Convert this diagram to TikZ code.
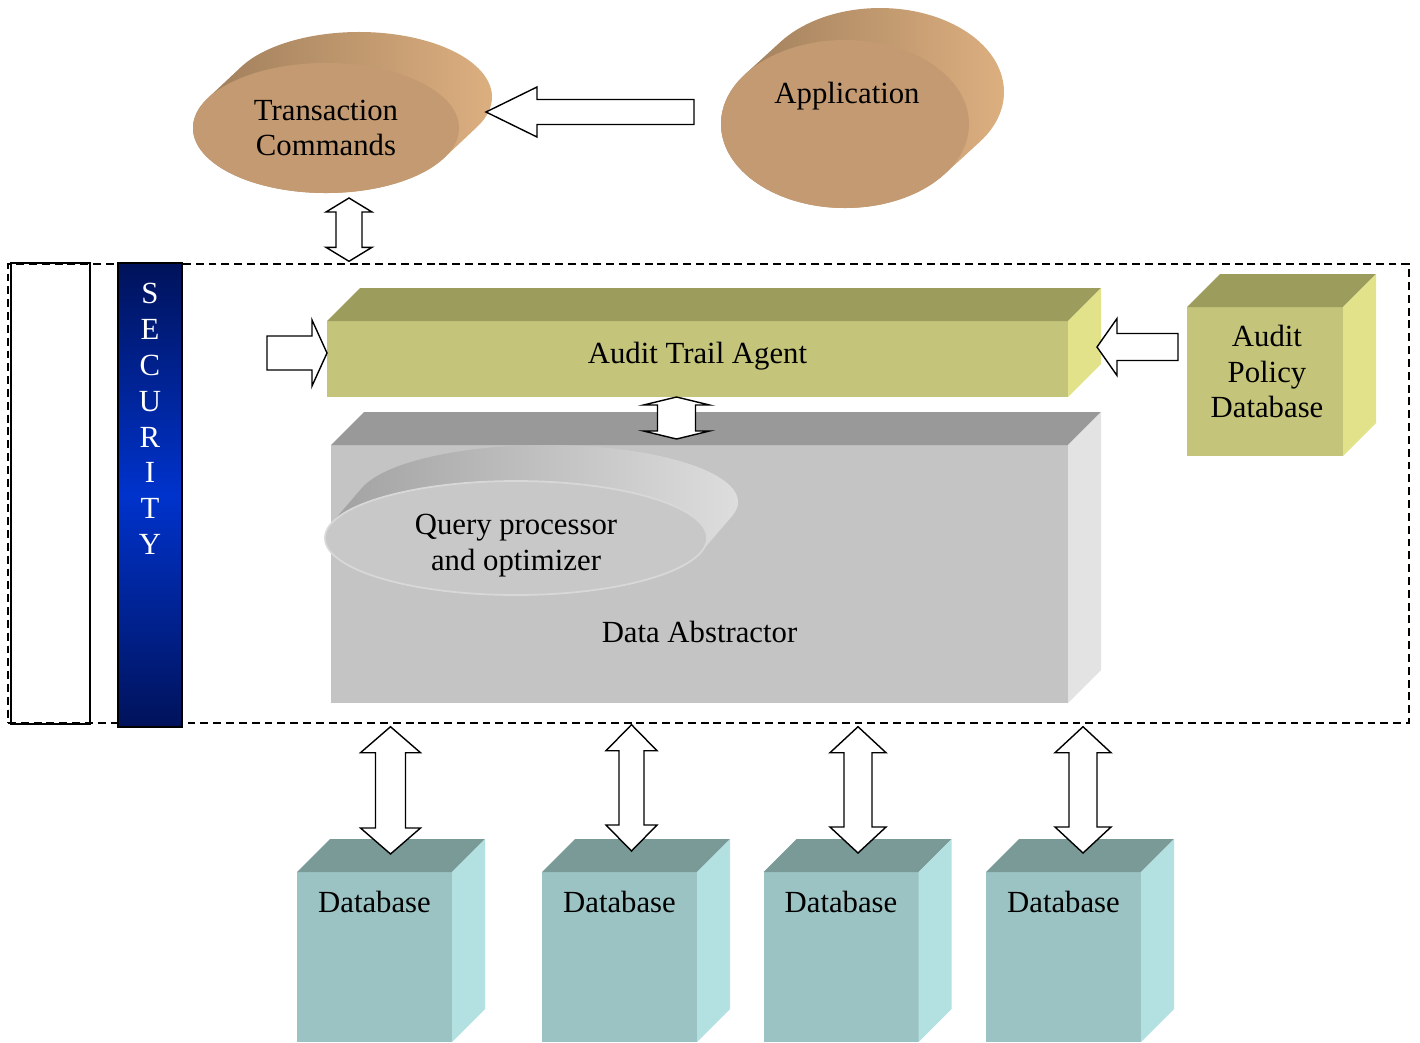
\documentclass[tikz,border=0pt]{standalone}
\usepackage{fontspec}
\setmainfont{Liberation Serif}
\usepackage{tikz}
\usetikzlibrary{shapes, calc}

\definecolor{tanfront}{HTML}{C49A72}
\definecolor{tandark}{HTML}{9A7A58}
\definecolor{tanlight}{HTML}{E0B282}
\definecolor{olivefront}{HTML}{C4C47A}
\definecolor{olivetop}{HTML}{9C9C5C}
\definecolor{oliveside}{HTML}{E2E28A}
\definecolor{greyfront}{HTML}{C4C4C4}
\definecolor{greytop}{HTML}{999999}
\definecolor{greyside}{HTML}{E3E3E3}
\definecolor{qfront}{HTML}{C8C8C8}
\definecolor{qedge}{HTML}{D8D8D8}
\definecolor{qdark}{HTML}{9E9E9E}
\definecolor{qlight}{HTML}{E0E0E0}
\definecolor{tealfront}{HTML}{9CC3C3}
\definecolor{tealtop}{HTML}{7A9A98}
\definecolor{tealside}{HTML}{B3E0E0}
\definecolor{navy}{HTML}{00125A}
\definecolor{brightblue}{HTML}{0033CC}

\def \px {0.02cm}
\def \cdepth {33}

\newcommand{\cubefaces}[3]{%
	\fill[#2] (#1.north west) -- ++(\cdepth,-\cdepth) -- ($(#1.north east)+(\cdepth,-\cdepth)$) -- (#1.north east) -- cycle;
	\fill[#3] (#1.north east) -- ++(\cdepth,-\cdepth) -- ($(#1.south east)+(\cdepth,-\cdepth)$) -- (#1.south east) -- cycle;
}

% centre, x radius, y radius, shift right, shift up, dark, light
\newcommand{\discside}[7]{%
	\pgfmathsetmacro{\discang}{atan((#3*#4)/(#2*#5))}
	\shade[left color=#6, right color=#7] ($(#1)+(\discang:#2 and #3)$)
		arc[start angle=\discang, delta angle=180, x radius=#2, y radius=#3] -- ++(#4,-#5)
		arc[start angle=\discang+180, delta angle=180, x radius=#2, y radius=#3] -- cycle;
}

\newcommand{\blockarrow}[5]{%
	\coordinate (ba-tail) at #1;
	\coordinate (ba-tip) at #2;
	\coordinate (ba-neck) at ($(ba-tip)!#5*\px!(ba-tail)$);
	\draw[blockarrow] (ba-tip) -- ($(ba-neck)!#3*\px!90:(ba-tip)$) -- ($(ba-neck)!#4*\px!90:(ba-tip)$)
		-- ($(ba-tail)!#4*\px!90:(ba-tip)$) -- ($(ba-tail)!#4*\px!-90:(ba-tip)$)
		-- ($(ba-neck)!#4*\px!-90:(ba-tip)$) -- ($(ba-neck)!#3*\px!-90:(ba-tip)$) -- cycle;
}

\newcommand{\dblockarrow}[5]{%
	\coordinate (da-a) at #1;
	\coordinate (da-b) at #2;
	\coordinate (da-na) at ($(da-a)!#5*\px!(da-b)$);
	\coordinate (da-nb) at ($(da-b)!#5*\px!(da-a)$);
	\draw[blockarrow] (da-a) -- ($(da-na)!#3*\px!90:(da-b)$) -- ($(da-na)!#4*\px!90:(da-b)$)
		-- ($(da-nb)!#4*\px!-90:(da-a)$) -- ($(da-nb)!#3*\px!-90:(da-a)$) -- (da-b)
		-- ($(da-nb)!#3*\px!90:(da-a)$) -- ($(da-nb)!#4*\px!90:(da-a)$)
		-- ($(da-na)!#4*\px!-90:(da-b)$) -- ($(da-na)!#3*\px!-90:(da-b)$) -- cycle;
}

\begin{document}
\begin{tikzpicture}[x=0.02cm, y=-0.02cm,
	font=\fontsize{17.5}{20.4}\selectfont,
	face/.style={rectangle, inner sep=0, outer sep=0},
	disc/.style={ellipse, inner sep=0, outer sep=0, align=center},
	blockarrow/.style={draw, fill=white, line width=0.8pt, line join=miter}]

	\useasboundingbox (0,0) rectangle (1420,1042);

	\node[draw, line width=0.8pt, minimum width=79*\px, minimum height=461*\px] (sidebox) at (50.5, 493.5) {};
	\node[draw, dash pattern=on 4.5pt off 2.8pt, line width=0.8pt, inner sep=0,
		minimum width=1401*\px, minimum height=459*\px] (frame) at (708.5, 493.5) {};

	\node[draw, line width=0.6pt, inner sep=0, top color=navy, bottom color=navy, middle color=brightblue,
		minimum width=64*\px, minimum height=464*\px] (security) at (150, 495) {};
	\node[text=white, align=center] (securitytext) at (150, 419)
		{S\\E\\C\\U\\R\\I\\T\\Y};

	\coordinate (tcc) at (326, 128);
	\discside{tcc}{133}{65}{33}{31}{tandark}{tanlight}
	\node[disc, fill=tanfront, minimum width=266*\px, minimum height=130*\px] (transcmd) at (tcc)
		{Transaction\\Commands};

	\coordinate (appc) at (845, 124);
	\discside{appc}{124}{84}{35}{32}{tandark}{tanlight}
	\node[disc, fill=tanfront, minimum width=248*\px, minimum height=168*\px] (app) at (appc) {};
	\node (applabel) at ($(app.center)+(2,-28)$) {Application};

	\node[face, fill=olivefront, minimum width=741*\px, minimum height=76*\px] (agent) at (697.5, 359) {};
	\cubefaces{agent}{olivetop}{oliveside}
	\node (agentlabel) at ($(agent.center)+(0,-3)$) {Audit Trail Agent};

	\node[face, fill=olivefront, minimum width=156*\px, minimum height=149*\px] (policy) at (1265, 381.5) {};
	\cubefaces{policy}{olivetop}{oliveside}
	\node[align=center] (policylabel) at ($(policy.center)+(2,-10)$) {Audit\\Policy\\Database};

	\node[face, fill=greyfront, minimum width=737*\px, minimum height=258*\px] (abstractor) at (699.5, 574) {};
	\cubefaces{abstractor}{greytop}{greyside}
	\node (abstractorlabel) at ($(abstractor.center)+(0,58)$) {Data Abstractor};

	\coordinate (qc) at (516, 538);
	\discside{qc}{191}{57}{31}{36}{qdark}{qlight}
	\node[disc, fill=qfront, draw=qedge, line width=1pt, minimum width=382*\px, minimum height=114*\px] (query) at (qc) {};
	\node[align=center] (querylabel) at ($(query.center)+(0,8)$) {Query processor\\and optimizer};

	\node[face, fill=tealfront, minimum width=155*\px, minimum height=170*\px] (db1) at (374.5, 957) {};
	\cubefaces{db1}{tealtop}{tealside}
	\node (db1label) at ($(db1.north)+(0,30)$) {Database};
	\node[face, fill=tealfront, minimum width=155*\px, minimum height=170*\px] (db2) at (619.5, 957) {};
	\cubefaces{db2}{tealtop}{tealside}
	\node (db2label) at ($(db2.north)+(0,30)$) {Database};
	\node[face, fill=tealfront, minimum width=155*\px, minimum height=170*\px] (db3) at (841, 957) {};
	\cubefaces{db3}{tealtop}{tealside}
	\node (db3label) at ($(db3.north)+(0,30)$) {Database};
	\node[face, fill=tealfront, minimum width=155*\px, minimum height=170*\px] (db4) at (1063.5, 957) {};
	\cubefaces{db4}{tealtop}{tealside}
	\node (db4label) at ($(db4.north)+(0,30)$) {Database};

	\blockarrow{($(app.west)+(-27,-12)$)}{($(transcmd.east)+(27,-16)$)}{25}{12.5}{51}
	\blockarrow{($(agent.west)+(-60,-6)$)}{($(agent.west)+(0,-6)$)}{33}{17}{15}
	\blockarrow{($(policy.west)+(-9,-34.5)$)}{($(agent.east)+(29,-12)$)}{28.5}{13.5}{20}

	\coordinate (tcport) at ($(transcmd.south)+(23,5)$);
	\dblockarrow{(tcport)}{($(tcport |- frame.north)+(0,-2)$)}{23}{13}{14}
	\coordinate (agentport) at ($(agent.south)+(-21,0)$);
	\dblockarrow{(agentport)}{($(agentport |- abstractor.north)+(0,-6)$)}{33}{19}{8}

	\coordinate (db1port) at ($(db1.north |- frame.south)+(16,3)$);
	\dblockarrow{(db1port)}{($(db1port |- db1.north)+(0,-18)$)}{30}{15}{26}
	\coordinate (db2port) at ($(db2.north |- frame.south)+(12,1)$);
	\dblockarrow{(db2port)}{($(db2port |- db2.north)+(0,-21)$)}{25.5}{12.5}{26}
	\coordinate (db3port) at ($(db3.north |- frame.south)+(17,3)$);
	\dblockarrow{(db3port)}{($(db3port |- db3.north)+(0,-19)$)}{28}{14}{26}
	\coordinate (db4port) at ($(db4.north |- frame.south)+(19.5,3)$);
	\dblockarrow{(db4port)}{($(db4port |- db4.north)+(0,-19)$)}{28}{14}{26}
\end{tikzpicture}
\end{document}
